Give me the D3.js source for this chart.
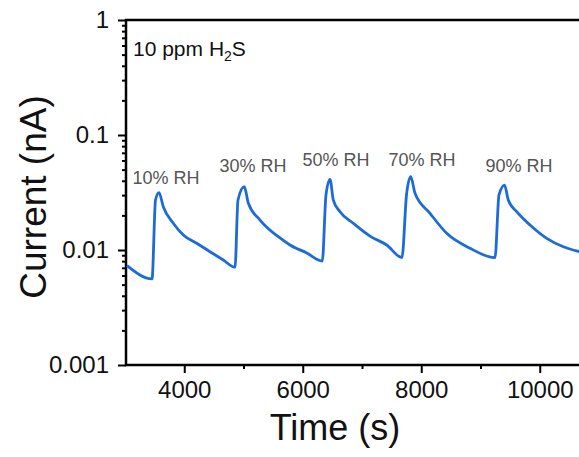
<!DOCTYPE html>
<html lang="en">
<head>
    <meta charset="UTF-8">
    <title>Current vs Time</title>
    <script src="https://d3js.org/d3.v7.min.js"></script>
    <style>
        body { margin: 0; background: #fff; }
        text { font-family: "Liberation Sans", Arial, sans-serif; }
    </style>
</head>
<body>
    <div id="chart"></div>
    <script>
        // time (s) and current (nA)
        const timeS = [3034, 3456, 3515, 3574, 3646, 3815, 3984, 4210, 4435, 4659, 4857,
            4907, 5013, 5081, 5279, 5616, 5785, 6067, 6330,
            6392, 6460, 6516, 6629, 6853, 7135, 7417, 7675,
            7751, 7822, 7895, 8148, 8430, 8823, 9245,
            9312, 9405, 9469, 9611, 9836, 10118, 10398, 10663];
        const currentNA = [0.0073, 0.0056, 0.0272, 0.0315, 0.0238, 0.01707, 0.0135, 0.01144, 0.00966, 0.00818, 0.00707,
            0.0272, 0.0355, 0.0256, 0.01823, 0.01272, 0.01105, 0.00942, 0.00802,
            0.0301, 0.0412, 0.0272, 0.02153, 0.01707, 0.0132, 0.01105, 0.00861,
            0.0301, 0.0434, 0.0311, 0.02085, 0.01397, 0.01035, 0.00857,
            0.0301, 0.0367, 0.0272, 0.02153, 0.0165, 0.01264, 0.01068, 0.0097];

        const xTicks = [4000, 6000, 8000, 10000];
        const xMinor = [5000, 7000, 9000];
        const yTicks = [1, 0.1, 0.01, 0.001];
        const yTickLabels = ["1", "0.1", "0.01", "0.001"];

        // RH labels, placed in data units (time, current at baseline)
        const rhLabels = ["10% RH", "30% RH", "50% RH", "70% RH", "90% RH"];
        const rhTime = [3692, 5160, 6561, 8013, 9650];
        const rhValue = [0.0375, 0.0477, 0.0537, 0.0537, 0.0477];

        const W = 579, H = 457;
        const plotLeft = 126, plotTop = 20, plotBottom = 365;

        const svg = d3.select("#chart").append("svg")
            .attr("width", W)
            .attr("height", H);

        const x = d3.scaleLinear().domain([3000, 11000]).range([125, 599]);
        const y = d3.scaleLog().domain([0.001, 1]).range([plotBottom, plotTop]);

        // minor log ticks
        const yMinor = [];
        [0.001, 0.01, 0.1].forEach(d => {
            for (let k = 2; k <= 9; k++) yMinor.push(d * k);
        });

        const xAxis = svg.append("g")
            .attr("transform", "translate(0," + plotBottom + ")")
            .call(d3.axisBottom(x).tickValues(xTicks).tickSize(8).tickPadding(8)
                .tickFormat(d3.format("d")));
        xAxis.select(".domain").remove();
        svg.append("g")
            .attr("transform", "translate(0," + plotBottom + ")")
            .call(d3.axisBottom(x).tickValues(xMinor).tickSize(4).tickFormat(""))
            .select(".domain").remove();

        const yAxis = svg.append("g")
            .attr("transform", "translate(" + plotLeft + ",0)")
            .call(d3.axisLeft(y).tickValues(yTicks).tickSize(8).tickPadding(9)
                .tickFormat((d, i) => yTickLabels[i]));
        yAxis.select(".domain").remove();
        svg.append("g")
            .attr("transform", "translate(" + plotLeft + ",0)")
            .call(d3.axisLeft(y).tickValues(yMinor).tickSize(4).tickFormat(""))
            .select(".domain").remove();

        svg.selectAll(".tick line").attr("stroke", "#000").attr("stroke-width", 2);
        svg.selectAll(".tick text")
            .attr("font-size", 24)
            .attr("fill", "#111")
            .style("font-family", "'Liberation Sans', Arial, sans-serif");

        // frame lines (left, bottom, top)
        svg.append("path")
            .attr("d", "M" + W + "," + plotTop + "H" + plotLeft + "V" + plotBottom + "H" + W)
            .attr("fill", "none")
            .attr("stroke", "#000")
            .attr("stroke-width", 2.5);

        const pts = timeS.map((t, i) => [t, currentNA[i]]);
        const line = d3.line()
            .x(d => x(d[0]))
            .y(d => y(d[1]))
            .curve(d3.curveMonotoneX);

        svg.append("path")
            .datum(pts)
            .attr("d", line)
            .attr("fill", "none")
            .attr("stroke", "#1c6bd8")
            .attr("stroke-width", 2.8)
            .attr("stroke-linejoin", "round");

        // annotations
        const note = svg.append("text")
            .attr("x", 133)
            .attr("y", 56)
            .attr("font-size", 21)
            .attr("fill", "#111");
        note.append("tspan").text("10 ppm H");
        note.append("tspan").attr("font-size", 14).attr("dy", 5).text("2");
        note.append("tspan").attr("dy", -5).text("S");

        svg.selectAll(".rh")
            .data(rhLabels)
            .enter().append("text")
            .attr("class", "rh")
            .attr("x", (d, i) => x(rhTime[i]))
            .attr("y", (d, i) => y(rhValue[i]))
            .attr("text-anchor", "middle")
            .attr("font-size", 18)
            .attr("fill", "#555")
            .text(d => d);

        // axis titles
        svg.append("text")
            .attr("x", 335)
            .attr("y", 440)
            .attr("text-anchor", "middle")
            .attr("font-size", 36)
            .attr("fill", "#111")
            .text("Time (s)");

        svg.append("text")
            .attr("transform", "translate(46,197) rotate(-90)")
            .attr("text-anchor", "middle")
            .attr("font-size", 37)
            .attr("fill", "#111")
            .text("Current (nA)");
    </script>
</body>
</html>
